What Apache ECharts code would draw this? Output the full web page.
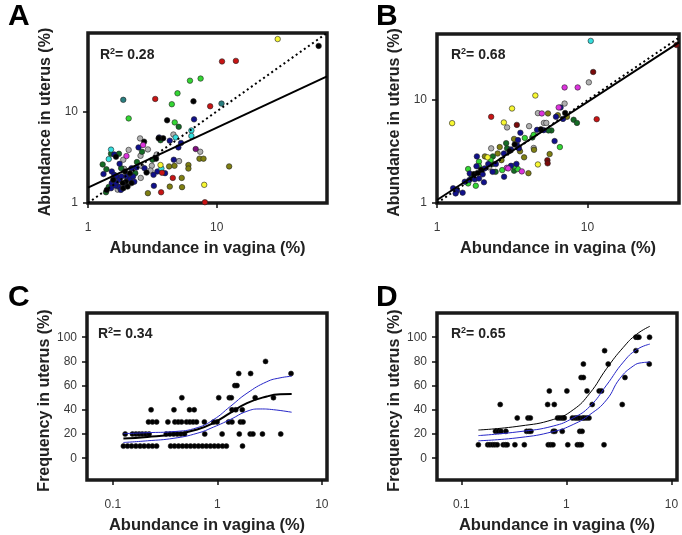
<!DOCTYPE html>
<html>
<head>
<meta charset="utf-8">
<script src="https://cdn.jsdelivr.net/npm/echarts@6/dist/echarts.min.js"></script>
<style>
  html, body { margin: 0; padding: 0; background: #fff; }
  #chart { width: 682px; height: 535px; }
</style>
</head>
<body>
<div id="chart"></div>
<script>
// ---- panel A : abundance (uterus vs vagina), one array per colour ----
const aBlack = [[62, 52], [6.6, 12.9], [4.12, 8.0], [3.84, 5.1], [3.54, 5.1], [2.73, 4.68], [3.38, 3.05], [1.65, 3.2], [2.85, 2.15],
  [1.57, 1.79], [1.97, 1.71], [2.18, 1.65], [1.86, 1.65], [1.88, 1.45], [2.03, 1.51], [2.12, 2.12], [1.94, 2.21], [1.40, 1.39]]
const aNavy = [[6.67, 8.2], [5.28, 4.53], [5.04, 4.05], [3.57, 5.2], [4.32, 4.8], [2.47, 4.05], [4.64, 2.97], [3.97, 2.12], [3.46, 2.21],
  [3.23, 2.03], [3.25, 1.54], [1.6, 3.39], [1.32, 2.07], [1.53, 2.21], [1.76, 2.68], [2.38, 2.44], [2.75, 2.4], [1.6, 2.03], [1.67, 1.95],
  [1.75, 1.79], [1.82, 1.95], [1.99, 1.95], [2.12, 1.82], [1.72, 1.51], [1.62, 1.55], [1.53, 1.65], [1.80, 1.39], [1.97, 1.58],
  [2.24, 1.95], [2.18, 2.4], [2.29, 1.71], [1.65, 1.67], [1.51, 1.45]]
const aGray = [[4.61, 5.6], [5.1, 2.87], [2.54, 5.08], [2.92, 3.85], [2.56, 3.28], [3.42, 3.39], [2.07, 3.8], [1.88, 2.97], [2.59, 2.55],
  [3.13, 2.55], [3.06, 2.26], [2.57, 1.88], [1.91, 2.36], [7.45, 3.63], [1.7, 1.4]]
const aDkGreen = [[5.07, 6.8], [3.66, 4.85], [2.63, 3.63], [3.17, 2.97], [1.51, 3.45], [1.74, 3.45], [1.3, 2.64], [1.39, 2.34], [1.81, 2.4],
  [2.4, 2.8], [2.33, 2.12], [1.38, 1.31], [2.1, 2.0], [1.45, 1.5]]
const aGreen = [[6.2, 21.7], [7.5, 22.9], [4.96, 15.8], [4.48, 12.0], [2.07, 8.4], [4.72, 7.6]]
const aCyan = [[6.36, 6.2], [6.36, 5.4], [4.8, 5.2], [1.51, 3.83], [1.45, 3.02], [3.72, 2.38]]
const aTeal = [[1.88, 13.4], [10.9, 12.2]]
const aMagenta = [[2.68, 4.3], [1.99, 3.26]]
const aRed = [[11.0, 35.2], [14.1, 35.7], [3.33, 13.7], [8.9, 11.4], [4.56, 1.88], [3.76, 2.14], [3.70, 1.31], [8.1, 1.02]]
const aOlive = [[7.35, 3.05], [7.9, 3.05], [12.5, 2.51], [6.03, 2.6], [6.03, 2.38], [5.35, 1.88], [5.38, 1.49], [4.27, 2.51], [4.7, 2.55],
  [4.32, 1.51], [2.92, 1.28]]
const aYellow = [[29.8, 61.8], [3.66, 2.6], [8.0, 1.58]]
const aPurple = [[6.87, 3.89]]
const aFit = [[1, 1.47], [72, 24.2]]
const aIdentity = [[1, 1], [72, 72]]

// ---- panel B ----
const bCyan = [[10.5, 37.7]]
const bMaroon = [[39, 34.4], [10.9, 18.8], [3.39, 5.75], [5.41, 2.61], [5.43, 2.43]]
const bGray = [[10.2, 14.9], [2.92, 5.43], [4.09, 5.59], [4.68, 7.48], [5.13, 6.01], [5.32, 6.01], [7.04, 9.27], [4.39, 3.43], [2.29, 3.4], [2.21, 2.22]]
const bMagenta = [[7.04, 13.3], [8.6, 13.3], [4.97, 7.43], [6.43, 8.5], [3.66, 2.03], [2.91, 2.2], [2.97, 2.17]]
const bYellow = [[4.5, 11.1], [1.26, 5.98], [3.15, 8.3], [2.78, 6.07], [4.68, 2.37], [2.17, 2.78]]
const bRed = [[2.29, 6.89], [11.5, 6.53]]
const bOlive = [[5.46, 7.43], [6.35, 7.15], [7.3, 6.89], [5.6, 2.99], [4.41, 3.29], [3.56, 3.18], [3.79, 2.78], [4.05, 1.95], [3.25, 4.2],
  [2.61, 3.5], [2.53, 3.03], [2.08, 2.84], [2.68, 2.61]]
const bNavy = [[6.62, 8.5], [6.17, 6.89], [6.87, 6.57], [6.04, 4.0], [4.62, 5.15], [5.11, 5.11], [3.58, 4.82], [3.4, 3.65], [3.5, 3.4],
  [3.37, 2.4], [3.1, 2.3], [3.45, 4.09], [3.1, 3.32], [2.78, 3.03], [1.84, 2.84], [2.46, 2.39], [2.19, 2.39], [2.79, 1.8], [2.34, 2.01],
  [2.07, 2.17], [1.65, 1.94], [1.83, 2.28], [2.01, 1.9], [1.78, 1.7], [1.9, 1.73], [2.05, 1.59], [1.64, 1.67], [1.53, 1.61], [1.28, 1.39],
  [1.36, 1.32], [1.48, 1.26], [1.33, 1.24]]
const bBlack = [[7.1, 7.5], [4.9, 5.2], [3.28, 3.71], [3.03, 3.2], [1.76, 1.91], [1.96, 2.11], [1.86, 1.96]]
const bDkGreen = [[8.08, 6.45], [8.5, 6.01], [5.75, 5.08], [5.5, 5.08], [4.3, 4.34], [3.25, 2.06], [2.88, 3.82], [2.92, 3.4], [2.35, 2.84],
  [2.45, 2.01], [1.7, 1.8], [2.33, 2.39]]
const bGreen = [[6.55, 3.5], [4.39, 4.6], [3.83, 4.29], [3.44, 2.14], [3.25, 2.28], [2.27, 2.61], [1.9, 2.52], [2.71, 2.09], [1.61, 2.14],
  [1.9, 2.28], [1.81, 1.47], [1.61, 1.55]]
const bFit = [[1, 1.07], [40.5, 36.5]]
const bIdentity = [[1, 1], [40.5, 40.5]]

// ---- panel C : frequency vs abundance ----
const cPoints = [
  [0.126, 10], [0.138, 10], [0.151, 10], [0.166, 10], [0.182, 10], [0.199, 10], [0.219, 10], [0.239, 10], [0.262, 10],
  [0.357, 10], [0.389, 10], [0.425, 10], [0.464, 10], [0.507, 10], [0.553, 10],
  [0.604, 10], [0.659, 10], [0.719, 10], [0.785, 10], [0.857, 10], [0.936, 10], [1.02, 10], [1.12, 10], [1.22, 10], [1.74, 10],
  [0.131, 20], [0.154, 20], [0.166, 20], [0.178, 20], [0.191, 20], [0.206, 20], [0.222, 20],
  [0.324, 20], [0.351, 20], [0.381, 20], [0.413, 20], [0.447, 20], [0.485, 20], [0.757, 20], [1.11, 20], [1.62, 20],
  [2.06, 20], [2.19, 20], [2.70, 20], [4.04, 20],
  [0.219, 30], [0.239, 30], [0.262, 30], [0.336, 30], [0.392, 30], [0.422, 30], [0.454, 30],
  [0.507, 30], [0.545, 30], [0.586, 30], [0.631, 30], [0.751, 30], [0.923, 30], [0.993, 30], [1.28, 30], [1.38, 30], [1.66, 30], [1.76, 30],
  [0.232, 40], [0.384, 40], [0.541, 40], [0.600, 40], [1.38, 40], [1.50, 40], [1.73, 40],
  [0.457, 50], [1.03, 50], [1.30, 50], [1.36, 50], [2.30, 50], [3.44, 50],
  [1.47, 60], [1.54, 60], [1.60, 70], [2.08, 70], [5.07, 70], [2.89, 80]
]
const cFit = [[0.126, 16.3], [0.214, 17.6], [0.384, 19.8], [0.640, 23.8], [0.923, 29.3], [1.33, 37.4], [1.92, 45.5], [2.97, 51], [3.98, 52.8], [5.14, 53]]
const cUpper = [[0.126, 20.3], [0.214, 21.1], [0.384, 22], [0.640, 25.2], [0.923, 32], [1.33, 42.8], [1.92, 53.7], [2.97, 63.2], [3.98, 66.4], [5.14, 67.7]]
const cLower = [[0.126, 13], [0.214, 14.4], [0.384, 16.5], [0.640, 20.6], [0.923, 25.8], [1.33, 32], [1.92, 38.8], [2.57, 40.7], [3.44, 40.1], [5.14, 38]]

// ---- panel D ----
const dPoints = [
  [0.145, 11.1], [0.178, 11.1], [0.187, 11.1], [0.198, 11.1], [0.208, 11.1], [0.219, 11.1], [0.250, 11.1], [0.263, 11.1], [0.273, 11.1],
  [0.323, 11.1], [0.397, 11.1], [0.671, 11.1], [0.706, 11.1], [0.744, 11.1], [1.03, 11.1], [1.27, 11.1], [1.33, 11.1], [1.39, 11.1], [2.28, 11.1],
  [0.211, 22.2], [0.224, 22.2], [0.238, 22.2], [0.265, 22.2], [0.417, 22.2], [0.440, 22.2], [0.459, 22.2], [0.749, 22.2], [0.777, 22.2],
  [0.912, 22.2], [1.34, 22.2], [1.41, 22.2],
  [0.340, 33.3], [0.430, 33.3], [0.453, 33.3], [0.824, 33.3], [0.867, 33.3], [0.912, 33.3], [0.953, 33.3], [1.14, 33.3], [1.21, 33.3],
  [1.27, 33.3], [1.33, 33.3], [1.43, 33.3], [1.48, 33.3], [1.56, 33.3], [1.64, 33.3],
  [0.234, 44.4], [0.662, 44.4], [0.766, 44.4], [1.76, 44.4], [3.40, 44.4],
  [0.687, 55.6], [1.01, 55.6], [1.57, 55.6], [2.05, 55.6], [2.16, 55.6],
  [1.38, 66.7], [1.45, 66.7], [3.61, 66.7], [1.45, 77.8], [2.50, 77.8], [6.15, 77.8],
  [2.31, 88.9], [4.59, 88.9], [4.59, 100], [4.73, 100], [4.90, 100], [6.19, 100]
]
const dFit = [[0.145, 23.3], [0.361, 26.6], [0.749, 32], [1.16, 40], [1.67, 53.7], [2.41, 74], [3.48, 91.6], [4.66, 102.4], [6.23, 109]]
const dUpper = [[0.145, 18.7], [0.361, 22], [0.749, 26.6], [1.16, 33.3], [1.67, 42.8], [2.41, 60.4], [3.48, 79.4], [4.66, 89.7], [6.23, 94.3]]
const dLower = [[0.145, 14.4], [0.361, 17.1], [0.749, 22], [1.16, 27.9], [1.67, 36], [2.41, 48.2], [3.23, 65.9], [4.33, 76.2], [5.2, 78.9], [6.23, 79.4]]

const logTicksAB = [1, 10]
const logTicksCD = [0.1, 1, 10]
const freqTicks = [0, 20, 40, 60, 80, 100]
const r2Labels = ['0.28', '0.68', '0.34', '0.65']

const FONT = 'Liberation Sans, Arial, sans-serif'
const colors = {
  black: '#000000', navy: '#10108a', gray: '#b0b0b0', dkgreen: '#146b24', green: '#33d633', cyan: '#35dede',
  teal: '#2a7f80', magenta: '#dd33dd', red: '#c81414', maroon: '#7a0a0a', olive: '#7f7f12', yellow: '#f7f732', purple: '#7d0f7d'
}

const chart = echarts.init(document.getElementById('chart'))

const grids = [
  { left: 88, top: 33, width: 239, height: 170 },
  { left: 437, top: 34, width: 242, height: 169 },
  { left: 87, top: 313, width: 240, height: 169 },
  { left: 437, top: 313, width: 240, height: 169 }
].map(g => Object.assign(g, { show: true, borderColor: '#1a1a1a', borderWidth: 3.5, backgroundColor: '#fff' }))

function axisCommon(ticks) {
  return {
    splitLine: { show: false },
    axisLine: { show: false, onZero: false },
    axisTick: { show: true, length: 5, inside: false, customValues: ticks, lineStyle: { color: '#111', width: 1.5 } },
    axisLabel: { customValues: ticks, fontSize: 12, color: '#3a3a3a', fontFamily: FONT },
    nameLocation: 'middle',
    nameTextStyle: { fontSize: 16.5, fontWeight: 'bold', color: '#222', fontFamily: FONT }
  }
}

function xAx(gridIndex, type, min, max, ticks) {
  const a = axisCommon(ticks)
  a.axisLabel.margin = 19
  return Object.assign(a, { gridIndex, type, logBase: 10, min, max, name: 'Abundance in vagina (%)', nameGap: 37 })
}
function yAx(gridIndex, type, min, max, ticks, name) {
  const a = axisCommon(ticks)
  a.axisLabel.margin = 10
  a.nameTextStyle.fontSize = 16
  a.nameTextStyle.padding = [0, 8, 0, 0]
  return Object.assign(a, { gridIndex, type, logBase: 10, min, max, name, nameGap: 34 })
}

const xAxes = [
  xAx(0, 'log', 1, 72, logTicksAB),
  xAx(1, 'log', 1, 40.5, logTicksAB),
  xAx(2, 'log', 0.0565, 11.2, logTicksCD),
  xAx(3, 'log', 0.0585, 11.3, logTicksCD)
]
const yAxes = [
  yAx(0, 'log', 1, 72, logTicksAB, 'Abundance in uterus (%)'),
  yAx(1, 'log', 1, 44, logTicksAB, 'Abundance in uterus (%)'),
  yAx(2, 'value', -18, 120, freqTicks, 'Frequency in uterus (%)'),
  yAx(3, 'value', -18, 120, freqTicks, 'Frequency in uterus (%)')
]

function dots(idx, data, color, size) {
  return {
    type: 'scatter', xAxisIndex: idx, yAxisIndex: idx, data, symbolSize: size || 5.5, z: 3,
    itemStyle: { color, borderColor: '#222', borderWidth: 0.6, opacity: 1 }
  }
}
function line(idx, data, color, width, type, smooth) {
  return {
    type: 'line', xAxisIndex: idx, yAxisIndex: idx, data, showSymbol: false, smooth: !!smooth, z: 4,
    lineStyle: { color, width, type: type || 'solid' }
  }
}

const series = [
  dots(0, aGray, colors.gray), dots(0, aOlive, colors.olive), dots(0, aDkGreen, colors.dkgreen), dots(0, aNavy, colors.navy),
  dots(0, aBlack, colors.black), dots(0, aGreen, colors.green), dots(0, aCyan, colors.cyan), dots(0, aTeal, colors.teal),
  dots(0, aMagenta, colors.magenta), dots(0, aRed, colors.red), dots(0, aYellow, colors.yellow), dots(0, aPurple, colors.purple),
  line(0, aFit, '#000', 2), line(0, aIdentity, '#000', 2, [2, 3]),

  dots(1, bGray, colors.gray), dots(1, bOlive, colors.olive), dots(1, bDkGreen, colors.dkgreen), dots(1, bGreen, colors.green),
  dots(1, bNavy, colors.navy), dots(1, bBlack, colors.black), dots(1, bMagenta, colors.magenta), dots(1, bYellow, colors.yellow),
  dots(1, bRed, colors.red), dots(1, bMaroon, colors.maroon), dots(1, bCyan, colors.cyan),
  line(1, bIdentity, '#000', 2, [2, 3]), line(1, bFit, '#000', 2),

  dots(2, cPoints, '#000', 5), line(2, cUpper, '#2626c8', 1, 'solid', true), line(2, cLower, '#2626c8', 1, 'solid', true),
  line(2, cFit, '#000', 2, 'solid', true),

  dots(3, dPoints, '#000', 5), line(3, dFit, '#000', 1, 'solid', true), line(3, dUpper, '#2626c8', 1, 'solid', true),
  line(3, dLower, '#2626c8', 1, 'solid', true)
]

const letterPos = [[3, -3], [371, -3], [3, 278], [371, 278]]
const r2Pos = [[100, 47], [451, 47], [98, 326], [451, 326]]
const titles = []
letterPos.forEach((p, i) => {
  titles.push({ text: 'ABCD'[i], left: p[0], top: p[1], textStyle: { fontSize: 30, fontWeight: 'bold', color: '#000', fontFamily: FONT } })
})
r2Pos.forEach((p, i) => {
  titles.push({
    text: '{r|R}{s|2}{r|= ' + r2Labels[i] + '}', left: p[0], top: p[1], padding: 0,
    textStyle: {
      rich: {
        r: { fontSize: 14, fontWeight: 'bold', color: '#222', fontFamily: FONT },
        s: { fontSize: 9, fontWeight: 'bold', color: '#222', fontFamily: FONT, padding: [0, 0, 8, 0] }
      }
    }
  })
})

chart.setOption({
  animation: false,
  backgroundColor: '#fff',
  title: titles,
  grid: grids,
  xAxis: xAxes,
  yAxis: yAxes,
  series
})
</script>
</body>
</html>
